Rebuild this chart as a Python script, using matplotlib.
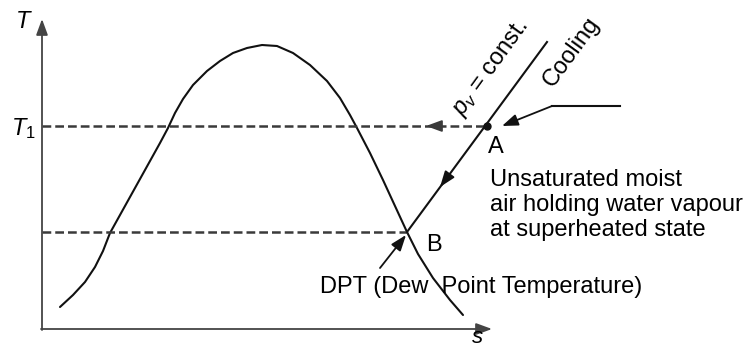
import matplotlib.pyplot as plt

plt.rcParams['font.family'] = ['Liberation Sans', 'DejaVu Sans']
plt.rcParams['mathtext.fontset'] = 'custom'
plt.rcParams['mathtext.rm'] = 'Liberation Sans'
plt.rcParams['mathtext.it'] = 'Liberation Sans:italic'

# 饱和线（钟形曲线），坐标为图上读出的像素位置
dome_s = [60, 73, 85, 95, 103, 110, 120, 130, 140, 150, 160, 168, 175, 183, 193, 207, 220, 233,
          247, 262, 277, 293, 310, 327, 340, 350, 357, 370, 383, 395, 407, 418, 433, 450, 463]
dome_T = [307, 295, 282, 267, 251, 233, 215, 197, 179, 161, 143, 128, 113, 99, 85, 71, 61, 53,
          48, 45, 46, 53, 65, 81, 98, 115, 128, 153, 180, 206, 232, 254, 278, 300, 315]

# 各状态点
T1_level = 126
dpt_level = 232
point_A = (487, 126)
point_B = (407, 232)
cool_top = (547, 42)

FS = 17
ink = '#111111'
dash_col = '#3a3a3a'

fig = plt.figure(figsize=(7.46, 3.5), dpi=100)
ax = fig.add_axes([0, 0, 1, 1])
ax.set_xlim(0, 746)
ax.set_ylim(350, 0)
ax.axis('off')

head = dict(arrowstyle='-|>,head_length=0.6,head_width=0.22', mutation_scale=16,
            color=ink, lw=1.3, shrinkA=0, shrinkB=0)

# 坐标轴
ax.annotate('', xy=(42, 19), xytext=(42, 330), arrowprops=dict(head, color='#444444'))
ax.annotate('', xy=(492, 329), xytext=(41, 329), arrowprops=dict(head, color='#444444'))
ax.text(23, 22, 'T', style='italic', fontsize=FS, ha='center', va='center')
ax.text(23, 129, r'$T_{1}$', fontsize=FS, ha='center', va='center')
ax.text(478, 343, 's', style='italic', fontsize=16, ha='center', va='baseline')

# 钟形曲线
ax.plot(dome_s, dome_T, lw=1.5, color=ink, solid_joinstyle='round', solid_capstyle='round')

# 虚线
ax.plot([42, point_A[0]], [T1_level, T1_level], ls='--', dashes=(3.5, 1.6), lw=1.8, color=dash_col)
ax.plot([42, point_B[0]], [dpt_level, dpt_level], ls='--', dashes=(3.5, 1.6), lw=1.8, color=dash_col)
ax.annotate('', xy=(426, T1_level), xytext=(436, T1_level), arrowprops=dict(head, color=dash_col))

# 冷却线
ax.plot([point_B[0], cool_top[0]], [point_B[1], cool_top[1]], lw=1.5, color=ink)
ax.annotate('', xy=(440, 187), xytext=(449, 175), arrowprops=head)
ax.plot(*point_A, 'o', ms=5, color=ink)

ax.text(491, 68, r'$p_v$ = const.', fontsize=FS, rotation=54, rotation_mode='anchor',
        ha='center', va='center')
ax.text(571, 52, 'Cooling', fontsize=FS, rotation=54, rotation_mode='anchor',
        ha='center', va='center')

# 指向A的引线
ax.plot([620, 552], [106, 106], lw=1.5, color=ink)
ax.annotate('', xy=(502, 126), xytext=(552, 106), arrowprops=head)
ax.text(496, 147, 'A', fontsize=FS, ha='center', va='center')
ax.text(490, 205, 'Unsaturated moist\nair holding water vapour\nat superheated state',
        fontsize=FS, ha='left', va='center', linespacing=1.2)

# B 点与露点温度
ax.text(434, 245, 'B', fontsize=FS, ha='center', va='center')
ax.annotate('', xy=(406, 235), xytext=(380, 268), arrowprops=head)
ax.text(320, 287, 'DPT (Dew  Point Temperature)', fontsize=FS, ha='left', va='center')

fig.savefig('out.png', dpi=100)
